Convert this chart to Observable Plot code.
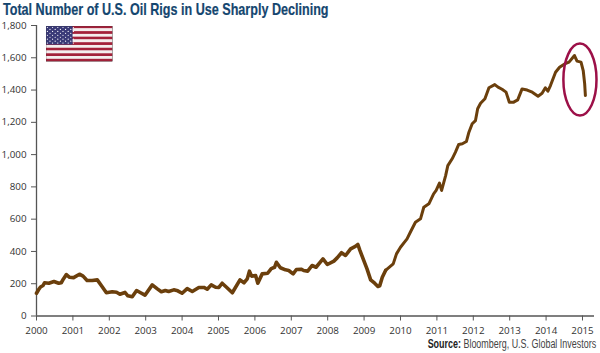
<!DOCTYPE html>
<html>
<head>
<meta charset="utf-8">
<script src="https://cdn.jsdelivr.net/npm/d3@7"></script>
<script src="https://cdn.jsdelivr.net/npm/@observablehq/plot@0.6"></script>
<style>
html,body{margin:0;padding:0;background:#fff;width:600px;height:353px;overflow:hidden}
#title{height:20px;padding-left:3px;font:bold 17px/20px "Liberation Sans",sans-serif;color:#14466f;white-space:nowrap;transform:scaleX(0.74);transform-origin:3px 0;-webkit-text-stroke:0.2px #14466f}
#chart svg{display:block}
#source{position:absolute;right:4px;top:337px;white-space:nowrap;font:12px/14px "Liberation Sans",sans-serif;color:#444;transform:scaleX(0.745);transform-origin:100% 0}
#source b{color:#222}
</style>
</head>
<body>
<div id="title">Total Number of U.S. Oil Rigs in Use Sharply Declining</div>
<div id="chart"></div>
<div id="source"><b>Source:</b> Bloomberg, U.S. Global Investors</div>
<script>
const years = [2000.00,2000.06,2000.11,2000.18,2000.22,2000.34,2000.48,2000.61,2000.68,2000.74,2000.82,2000.91,2001.02,2001.18,2001.28,2001.39,2001.53,2001.67,2001.80,2001.92,2002.08,2002.20,2002.29,2002.43,2002.51,2002.63,2002.75,2002.86,2002.98,2003.18,2003.32,2003.43,2003.54,2003.63,2003.77,2003.88,2004.00,2004.14,2004.28,2004.46,2004.60,2004.69,2004.80,2004.92,2005.01,2005.10,2005.22,2005.38,2005.59,2005.70,2005.79,2005.85,2005.91,2006.02,2006.08,2006.20,2006.35,2006.45,2006.54,2006.59,2006.70,2006.84,2006.93,2007.05,2007.14,2007.27,2007.34,2007.45,2007.57,2007.68,2007.87,2007.99,2008.17,2008.26,2008.38,2008.49,2008.63,2008.76,2008.83,2008.88,2008.99,2009.08,2009.18,2009.29,2009.38,2009.43,2009.50,2009.59,2009.80,2009.89,2010.00,2010.18,2010.27,2010.41,2010.55,2010.64,2010.78,2010.91,2010.98,2011.07,2011.13,2011.24,2011.30,2011.42,2011.51,2011.60,2011.70,2011.81,2011.88,2011.97,2012.06,2012.12,2012.20,2012.32,2012.43,2012.59,2012.68,2012.79,2012.90,2012.99,2013.11,2013.22,2013.34,2013.48,2013.62,2013.78,2013.89,2013.98,2014.05,2014.12,2014.26,2014.37,2014.51,2014.63,2014.78,2014.85,2014.96,2015.02,2015.06,2015.08];
const rigs = [141,164,180,189,206,203,214,203,206,230,257,240,238,259,247,220,220,224,183,144,150,147,135,146,125,119,158,144,129,193,168,150,158,152,162,156,141,170,152,177,177,166,193,178,177,203,178,144,224,206,230,278,247,251,203,261,265,294,302,333,299,286,282,261,288,290,282,278,313,302,354,319,340,360,392,375,416,431,443,410,344,292,224,203,183,187,240,282,323,385,426,478,519,581,602,674,695,757,778,823,778,870,932,974,1015,1063,1067,1081,1139,1191,1211,1284,1318,1346,1414,1434,1418,1405,1387,1325,1325,1339,1407,1400,1387,1362,1380,1414,1393,1428,1510,1541,1562,1573,1614,1579,1573,1521,1438,1366];
const xTicks = d3.range(2000, 2016);
const yTicks = d3.range(0, 2000, 200);
const rows = years.map((year, i) => ({year, rigs: rigs[i]}));

// Flag picture, an inline data URI
const stripes = d3.range(13).map(i =>
  `<rect x="0" y="${i*36/13}" width="67" height="${36/13+0.1}" fill="${i%2?'#f4eeee':'#a3213a'}"/>`).join("");
let stars = "";
for (let r = 0; r < 9; r++) for (let c = 0; c < (r%2?5:6); c++)
  stars += `<circle cx="${(r%2?4.4:1.8)+c*5.2}" cy="${1.9+r*1.95}" r="0.6" fill="#fff"/>`;
const flagSvg = `<svg xmlns="http://www.w3.org/2000/svg" width="67" height="36" viewBox="0 0 67 36">${stripes}<rect width="27" height="19" fill="#3a3a78"/>${stars}<rect x="0.25" y="0.25" width="66.5" height="35.5" fill="none" stroke="#333" stroke-width="0.7"/></svg>`;
const flagRows = [{year: 2001.17, rigs: 1688, src: "data:image/svg+xml;utf8," + encodeURIComponent(flagSvg)}];

// Ellipse as a dot symbol, taller than wide
const tallEllipse = {
  draw(ctx, size) {
    const ry = Math.sqrt(size / Math.PI), rx = ry * 0.46, k = 0.5523;
    ctx.moveTo(rx, 0);
    ctx.bezierCurveTo(rx, k*ry, k*rx, ry, 0, ry);
    ctx.bezierCurveTo(-k*rx, ry, -rx, k*ry, -rx, 0);
    ctx.bezierCurveTo(-rx, -k*ry, -k*rx, -ry, 0, -ry);
    ctx.bezierCurveTo(k*rx, -ry, rx, -k*ry, rx, 0);
    ctx.closePath();
  }
};
const circled = [{year: 2014.93, rigs: 1465}];

const axisFont = {fontFamily: '"Open Sans", sans-serif', fontSize: 9.8, fill: "#333"};
const lineStyle = {x: "year", y: "rigs", stroke: "#6b3f0c", strokeLinejoin: "round", strokeLinecap: "round"};
const plot = Plot.plot({
  width: 600, height: 320,
  marginLeft: 36, marginRight: 6, marginTop: 5, marginBottom: 24.5,
  x: {domain: [2000, 2015.33], label: null},
  y: {domain: [0, 1800], label: null},
  style: {background: "#fff", overflow: "visible"},
  marks: [
    Plot.axisY({ticks: yTicks, tickSize: 5, tickPadding: 5, tickFormat: d3.format(","), label: null, stroke: "#555", ...axisFont}),
    Plot.axisX({ticks: xTicks, tickSize: 5, tickPadding: 6, tickFormat: d => String(d), label: null, stroke: "#555", ...axisFont}),
    Plot.ruleY([0], {stroke: "#555", strokeWidth: 1.3}),
    Plot.ruleX([2000], {stroke: "#555", strokeWidth: 1.3}),
    Plot.image(flagRows, {x: "year", y: "rigs", src: "src", width: 67, height: 36, preserveAspectRatio: "none"}),
    Plot.line(rows.filter(d => d.year <= 2009.6), {...lineStyle, strokeWidth: 3.6}),
    Plot.line(rows.filter(d => d.year >= 2009.59), {...lineStyle, strokeWidth: 3}),
    Plot.dot(circled, {x: "year", y: "rigs", r: 36, symbol: tallEllipse, stroke: "#9c1048", strokeWidth: 2.5, fill: "none"})
  ]
});
document.getElementById("chart").appendChild(plot);
</script>
</body>
</html>
